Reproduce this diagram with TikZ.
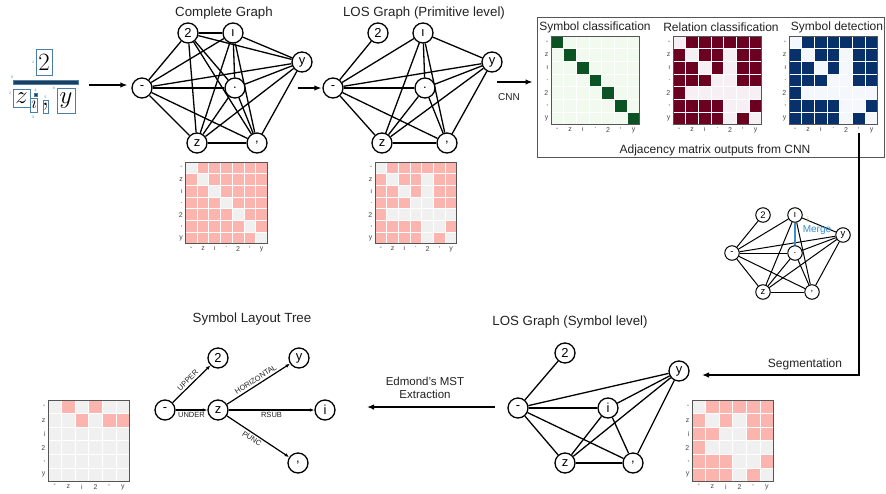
\documentclass[tikz,border=0pt]{standalone}
\usepackage{fontspec}
\setmainfont{Liberation Sans}
\usetikzlibrary{arrows.meta}
\pgfdeclarelayer{edges}
\pgfsetlayers{edges,main}
\definecolor{pinkc}{HTML}{FBB4AE}
\definecolor{grayc}{HTML}{F0F0F0}
\definecolor{dgreen}{HTML}{0B5323}
\definecolor{lgreen}{HTML}{F2F9EF}
\definecolor{dred}{HTML}{6B0020}
\definecolor{lred}{HTML}{F6EFF3}
\definecolor{dblue}{HTML}{08306B}
\definecolor{lblue}{HTML}{F4F8FD}
\definecolor{framec}{HTML}{555555}
\definecolor{labc}{HTML}{444444}
\definecolor{boxblue}{HTML}{4A7DA8}
\definecolor{barblue}{HTML}{1B3F5E}
\definecolor{mergeblue}{HTML}{3A8FD0}
\definecolor{mergeor}{HTML}{F0A030}
\definecolor{txtc}{HTML}{222222}
\newcommand{\adjmat}[8]{%
  \foreach \rowv [count=\ri from 0] in {#6} {%
    \foreach \vv [count=\ci from 0] in \rowv {%
      \ifnum\vv=1\relax
        \fill[#5] ({#1+\ci*#3},{#2+\ri*#3}) rectangle ++(#3,#3);%
      \else
        \fill[#4] ({#1+\ci*#3},{#2+\ri*#3}) rectangle ++(#3,#3);%
      \fi
    }%
  }%
  \pgfmathtruncatemacro\nmone{#8-1}%
  \foreach \kk in {1,...,\nmone} {%
    \draw[white,line width=1pt] ({#1+\kk*#3},#2) -- ++(0,{#8*#3});
    \draw[white,line width=1pt] (#1,{#2+\kk*#3}) -- ++({#8*#3},0);
  }%
  \draw[framec,line width=0.9pt] (#1,#2) rectangle ++({#8*#3},{#8*#3});
  \foreach \lab [count=\kk from 0] in {#7} {%
    \node[matlab,anchor=east] at ({#1-2},{#2+(\kk+0.5)*#3}) {\lab};
    \node[matlab,anchor=north] at ({#1+(\kk+0.5)*#3},{#2+#8*#3+2.5}) {\lab};
  }%
}
\tikzset{
  gnode/.style={circle,draw,line width=1.3pt,fill=white,minimum size=20pt,inner sep=0pt,font=\fontsize{13}{13}\selectfont},
  snode/.style={circle,draw,line width=1pt,fill=white,minimum size=14.5pt,inner sep=0pt,font=\fontsize{9.5}{9.5}\selectfont},
  gedge/.style={line width=1.3pt},
  sedge/.style={line width=1pt},
  ttl/.style={font=\fontsize{13.3}{14}\selectfont,text=txtc,inner sep=0pt},
  subttl/.style={font=\fontsize{12}{13}\selectfont,text=txtc,inner sep=0pt},
  matlab/.style={font=\fontsize{7}{7}\selectfont,text=labc,inner sep=0.5pt},
  marrow/.style={line width=1.3pt,-{Latex[length=7pt,width=5.5pt]}},
  tarrow/.style={line width=1.2pt,-{Latex[length=4.5pt,width=3.5pt]}},
  elab/.style={font=\fontsize{7.5}{7.5}\selectfont,text=txtc,inner sep=2pt},
  fbox/.style={draw=boxblue,line width=0.7pt},
  tinyn/.style={font=\fontsize{3.5}{3.5}\selectfont,text=boxblue,inner sep=0pt},
}
\begin{document}
\begin{tikzpicture}[x=1pt,y=-1pt]
\useasboundingbox (0,0) rectangle (886,493);
\begin{pgfonlayer}{edges}
\fill[white] (0,0) rectangle (886,493);
\end{pgfonlayer}

% ---------- formula ----------
\node[inner sep=0] (f2) at (44,62) {\fontsize{32}{32}\selectfont$2$};
\draw[fbox] (36,49) rectangle (52,75);
\fill[barblue] (13,80.5) rectangle (78,84.5);
\draw[fbox] (13,80.5) rectangle (78,84.5);
\node[inner sep=0] (fz) at (21.5,98) {\fontsize{24}{24}\selectfont$z$};
\draw[fbox] (13,89) rectangle (30,107);
\node[inner sep=0] (fi) at (34,105) {\fontsize{16}{16}\selectfont$\imath$};
\draw[fbox] (30.5,98) rectangle (37.5,112);
\fill[barblue] (34.5,93.5) rectangle (37,96);
\draw[fbox] (34.5,93.5) rectangle (37,96);
\node[inner sep=0] (fc) at (45.5,107) {\fontsize{30}{30}\selectfont$,$};
\draw[fbox] (43,100) rectangle (48,113);
\node[inner sep=0] (fy) at (66,101) {\fontsize{24}{24}\selectfont$y$};
\draw[fbox] (57,88) rectangle (75,113);
\node[tinyn] (n0) at (12,77) {0};
\node[tinyn] (n1) at (33,62) {1};
\node[tinyn] (n2) at (10,93) {2};
\node[tinyn] (n3) at (33,117) {3};
\node[tinyn] (n4) at (35.5,90.5) {4};
\node[tinyn] (n5) at (45.5,97.5) {5};
\node[tinyn] (n6) at (54,88) {6};

% ---------- complete graph ----------
\node[ttl] (tcg) at (224,13) {Complete Graph};
\node[gnode] (cm) at (142,88) {-};
\node[gnode] (c2) at (188,33) {2};
\node[gnode] (ci) at (233,33) {ı};
\node[gnode] (cy) at (302,62) {y};
\node[gnode] (cd) at (235,88) {.};
\node[gnode] (cz) at (197,143) {z};
\node[gnode] (cc) at (257,143) {,};
\begin{pgfonlayer}{edges}
\foreach \a/\b in {cm/c2,cm/ci,cm/cy,cm/cd,cm/cz,cm/cc,c2/ci,c2/cy,c2/cd,c2/cz,c2/cc,ci/cy,ci/cd,ci/cz,ci/cc,cy/cd,cy/cz,cy/cc,cd/cz,cd/cc,cz/cc}
  \draw[gedge] (\a) -- (\b);
\end{pgfonlayer}
\adjmat{185.5}{162}{11.7}{pinkc}{grayc}{{1,0,0,0,0,0,0},{0,1,0,0,0,0,0},{0,0,1,0,0,0,0},{0,0,0,1,0,0,0},{0,0,0,0,1,0,0},{0,0,0,0,0,1,0},{0,0,0,0,0,0,1}}{-,z,ı,.,2,{,},y}{7}

% ---------- LOS primitive ----------
\node[ttl] (tlp) at (424,13) {LOS Graph (Primitive level)};
\node[gnode] (pm) at (333,88) {-};
\node[gnode] (p2) at (378,33) {2};
\node[gnode] (pi) at (423,33) {ı};
\node[gnode] (py) at (492,62) {y};
\node[gnode] (pd) at (425,88) {.};
\node[gnode] (pz) at (382,143) {z};
\node[gnode] (pc) at (447,143) {,};
\begin{pgfonlayer}{edges}
\foreach \a/\b in {pm/p2,pm/pz,pm/pi,pm/pd,pm/pc,pm/py,pz/pi,pz/pd,pz/pc,pz/py,pi/pd,pi/pc,pi/py,pd/pc,pd/py,pc/py}
  \draw[gedge] (\a) -- (\b);
\end{pgfonlayer}
\adjmat{375}{162}{11.7}{grayc}{pinkc}{{0,1,1,1,1,1,1},{1,0,1,1,0,1,1},{1,1,0,1,0,1,1},{1,1,1,0,0,1,1},{1,0,0,0,0,0,0},{1,1,1,1,0,0,1},{1,1,1,1,0,1,0}}{-,z,ı,.,2,{,},y}{7}

% ---------- top arrows ----------
\coordinate (a1s) at (89,85);
\coordinate (a2s) at (298,88);
\coordinate (a3s) at (497,82);
\draw[marrow,shorten >=4pt] (a1s) -- (a1s -| cm.west);
\draw[marrow,shorten >=1pt] (a2s) -- (a2s -| pm.west);
\node[draw=framec,line width=0.9pt,minimum width=347pt,minimum height=140pt,inner sep=0pt] (cnnbox) at (710.5,87) {};
\draw[marrow,shorten >=4pt] (a3s) -- (a3s -| cnnbox.west);
\node[font=\fontsize{10}{10}\selectfont,text=txtc] (cnnl) at (509,97) {CNN};

% ---------- CNN box ----------
\node[subttl] (tsc) at (595,27) {Symbol classification};
\node[subttl] (trc) at (721,27) {Relation classification};
\node[subttl] (tsd) at (837,27) {Symbol detection};
\node[subttl] (tam) at (715,150) {Adjacency matrix outputs from CNN};
\adjmat{551}{36}{12.7}{lgreen}{dgreen}{{1,0,0,0,0,0,0},{0,1,0,0,0,0,0},{0,0,1,0,0,0,0},{0,0,0,1,0,0,0},{0,0,0,0,1,0,0},{0,0,0,0,0,1,0},{0,0,0,0,0,0,1}}{-,z,ı,.,2,{,},y}{7}
\adjmat{673}{36}{12.7}{lred}{dred}{{0,1,1,1,1,1,1},{1,0,1,1,0,1,1},{1,1,0,1,0,1,1},{1,1,1,0,0,1,1},{1,0,0,0,0,0,0},{1,1,1,1,0,0,1},{1,1,1,1,0,1,0}}{-,z,ı,.,2,{,},y}{7}
\adjmat{789}{36}{12.7}{lblue}{dblue}{{0,1,1,1,1,1,1},{1,0,1,1,0,1,1},{1,1,0,1,0,1,1},{1,1,1,0,0,1,1},{1,0,0,0,0,0,0},{1,1,1,1,0,0,1},{1,1,1,1,0,1,0}}{-,z,ı,.,2,{,},y}{7}

% ---------- merge graph ----------
\node[snode] (mm) at (732,253) {-};
\node[snode] (m2) at (763,215) {2};
\node[snode] (mi) at (795,215) {ı};
\node[snode] (my) at (843,235) {y};
\node[snode] (md) at (795,253) {.};
\node[snode] (mz) at (763,292) {z};
\node[snode] (mc) at (812,292) {,};
\begin{pgfonlayer}{edges}
\foreach \a/\b in {mm/m2,mm/mz,mm/mi,mm/md,mm/mc,mm/my,mz/mi,mz/md,mz/mc,mz/my,mi/mc,mi/my,md/mc,md/my,mc/my}
  \draw[sedge] (\a) -- (\b);
\draw[mergeblue,line width=2.5pt] (mi) -- (md);
\end{pgfonlayer}
\node[font=\fontsize{10}{10}\selectfont,text=mergeblue,inner sep=0pt] (mlab) at (817,230) {Merge};
\node[font=\fontsize{8}{8}\selectfont,text=mergeor,inner sep=0pt] (mor) at (808,220) {i};

% ---------- segmentation ----------
\coordinate (segtop) at (859,133);
\coordinate (segend) at (702,375);
\draw[marrow] (segtop) |- (segend);
\node[subttl] (tseg) at (805,364) {Segmentation};

% ---------- LOS symbol level ----------
\node[ttl] (tls) at (570,322) {LOS Graph (Symbol level)};
\node[gnode] (sm) at (518,408) {-};
\node[gnode] (s2) at (565,353) {2};
\node[gnode] (sy) at (679,371) {y};
\node[gnode] (si) at (608,408) {i};
\node[gnode] (sz) at (565,463) {z};
\node[gnode] (sc) at (633,463) {,};
\begin{pgfonlayer}{edges}
\foreach \a/\b in {sm/s2,sm/sz,sm/si,sm/sc,sm/sy,sz/si,sz/sc,sz/sy,si/sc,si/sy,sc/sy}
  \draw[gedge] (\a) -- (\b);
\end{pgfonlayer}
\adjmat{692}{400}{13.6}{grayc}{pinkc}{{0,1,1,1,1,1},{1,0,1,0,1,1},{1,1,0,0,1,1},{1,0,0,0,0,0},{1,1,1,0,0,1},{1,1,1,0,1,0}}{-,z,i,2,{,},y}{6}

% ---------- Edmond ----------
\coordinate (eds) at (495,407);
\coordinate (ede) at (367,407);
\draw[marrow] (eds) -- (ede);
\node[font=\fontsize{11.5}{12}\selectfont,text=txtc,align=center,inner sep=0pt] (edl) at (425,388) {Edmond's MST\\[1pt]Extraction};

% ---------- symbol layout tree ----------
\node[ttl] (tslt) at (252,319) {Symbol Layout Tree};
\node[gnode] (tm) at (165,410) {-};
\node[gnode] (t2) at (218,358) {2};
\node[gnode] (tz) at (218,410) {z};
\node[gnode] (ty) at (299,358) {y};
\node[gnode] (ti) at (325,410) {i};
\node[gnode] (tc) at (298,463) {,};
\draw[tarrow] (tm) -- node[elab,midway,above,sloped] {UPPER} (t2);
\draw[tarrow] (tm) -- node[elab,midway,below] {UNDER} (tz);
\draw[tarrow] (tz) -- node[elab,midway,above,sloped] {HORIZONTAL} (ty);
\draw[tarrow] (tz) -- node[elab,midway,below] {RSUB} (ti);
\draw[tarrow] (tz) -- node[elab,pos=0.45,below,sloped] {PUNC} (tc);
\adjmat{48}{400}{13.6}{grayc}{pinkc}{{0,1,0,1,0,0},{0,0,1,0,1,1},{0,0,0,0,0,0},{0,0,0,0,0,0},{0,0,0,0,0,0},{0,0,0,0,0,0}}{-,z,i,2,{,},y}{6}
\end{tikzpicture}
\end{document}
